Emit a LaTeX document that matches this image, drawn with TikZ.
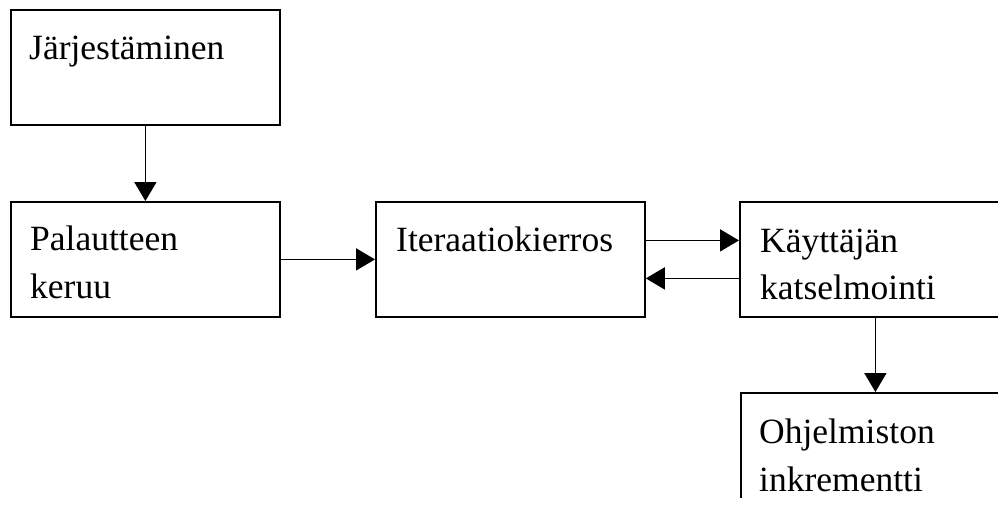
\documentclass[tikz,border=0pt]{standalone}
\usepackage{fontspec}
\setmainfont{Liberation Serif}
\usetikzlibrary{arrows.meta}
\begin{document}
\begin{tikzpicture}[x=1pt,y=-1pt,
  box/.style={draw, line width=1.8pt, rectangle, anchor=north west, inner sep=0pt,
    minimum width=269pt, minimum height=115pt},
  lbl/.style={anchor=base west, inner sep=0pt, font=\fontsize{35.5}{42}\selectfont},
  flow/.style={line width=1.8pt, -{Triangle[length=19pt,width=22pt]}}]
  \useasboundingbox (0,0) rectangle (998,507);
  \clip (0,0) rectangle (998,507);

  % process boxes
  \node[box] (jar) at (10,9) {};
  \node[box] (pal) at (10,201) {};
  \node[box] (ite) at (375,201) {};
  \node[box] (kay) at (739,201) {};
  \begin{scope}
    \clip (0,0) rectangle (998,497);
    \node[box] (ohj) at (740,392) {};
  \end{scope}

  % box texts
  \node[lbl] (jar1) at (29,59) {Järjestäminen};
  \node[lbl] (pal1) at (30,250) {Palautteen};
  \node[lbl] (pal2) at (30,298) {keruu};
  \node[lbl] (ite1) at (396,251) {Iteraatiokierros};
  \node[lbl] (kay1) at (760,252) {Käyttäjän};
  \node[lbl] (kay2) at (760,299) {katselmointi};
  \node[lbl] (ohj1) at (759,443) {Ohjelmiston};
  \node[lbl] (ohj2) at (759,491) {inkrementti};

  % connectors
  \draw[flow] (jar.south) -- (pal.north);
  \draw[flow] (pal.east) -- (ite.west);
  \draw[flow] ([yshift=19pt]ite.east) -- ([yshift=19pt]kay.west);
  \draw[flow] ([yshift=-19pt]kay.west) -- ([yshift=-19pt]ite.east);
  \draw[flow] (ohj.north |- kay.south) -- (ohj.north);
\end{tikzpicture}
\end{document}
